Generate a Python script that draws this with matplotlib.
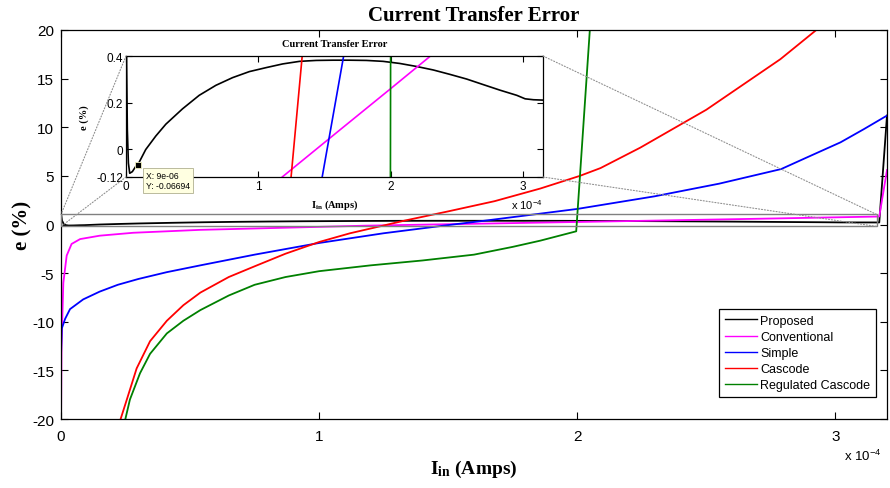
import matplotlib
matplotlib.use('Agg')
import matplotlib.pyplot as plt
from matplotlib.patches import Rectangle, ConnectionPatch
from matplotlib.ticker import FuncFormatter

# input current is stored in units of 1e-4 A
SCALE = 1e-4

prop_x = [0.0, 0.004, 0.010, 0.018, 0.028, 0.048, 0.073, 0.09, 0.149, 0.225, 0.301, 0.427,
          0.553, 0.679, 0.805, 0.932, 1.058, 1.184, 1.311, 1.437, 1.563, 1.689, 1.816, 1.942,
          2.068, 2.195, 2.321, 2.447, 2.573, 2.699, 2.826, 2.952, 3.015, 3.078, 3.17, 3.2]
prop_y = [1.1, 0.40, 0.085, -0.060, -0.104, -0.097, -0.075, -0.06694, -0.002, 0.056, 0.107, 0.173,
          0.231, 0.274, 0.307, 0.333, 0.350, 0.366, 0.377, 0.381, 0.382, 0.382, 0.381, 0.377,
          0.368, 0.355, 0.340, 0.321, 0.301, 0.277, 0.253, 0.231, 0.216, 0.212, 0.21, 11.2]

conv_x = [0.0, 0.002, 0.009, 0.022, 0.041, 0.074, 0.15, 0.28, 0.54, 0.93, 1.18, 1.6,
          2.0, 2.3, 2.7, 3.17, 3.2]
conv_y = [-21.0, -12.5, -6.0, -3.2, -2.0, -1.5, -1.15, -0.85, -0.55, -0.29, -0.12, 0.075,
          0.26, 0.40, 0.59, 0.82, 5.6]

simp_x = [0.0, 0.003, 0.016, 0.035, 0.086, 0.15, 0.22, 0.3, 0.41, 0.54, 0.75, 1.0, 1.25,
          1.482, 1.644, 2.0, 2.3, 2.55, 2.79, 2.89, 3.02, 3.11, 3.2]
simp_y = [-13.5, -10.7, -9.7, -8.7, -7.7, -6.9, -6.2, -5.6, -4.9, -4.2, -3.1, -1.9, -0.9,
          -0.12, 0.4, 1.6, 2.9, 4.2, 5.7, 6.9, 8.45, 9.8, 11.2]

casc_x = [0.225, 0.255, 0.293, 0.345, 0.41, 0.474, 0.54, 0.65, 0.75, 0.87, 1.0, 1.12, 1.247,
          1.331, 1.5, 1.68, 1.857, 2.01, 2.09, 2.244, 2.5, 2.787, 2.94]
casc_y = [-20.5, -18.0, -14.8, -12.0, -9.9, -8.3, -7.0, -5.4, -4.3, -3.0, -1.8, -0.9, -0.12,
          0.4, 1.35, 2.4, 3.7, 5.0, 5.8, 7.9, 11.8, 17.0, 20.3]

reg_x = [0.245, 0.267, 0.306, 0.345, 0.41, 0.474, 0.54, 0.65, 0.75, 0.87, 1.0, 1.2, 1.4,
         1.6, 1.75, 1.857, 1.996, 2.05]
reg_y = [-20.5, -18.0, -15.3, -13.3, -11.2, -9.9, -8.8, -7.3, -6.2, -5.4, -4.8, -4.2, -3.7,
         -3.1, -2.3, -1.66, -0.7, 20.5]

labels = ['Proposed', 'Conventional', 'Simple', 'Cascode', 'Regulated Cascode']
colors = ['black', '#ff00ff', '#0000ff', '#ff0000', '#008000']

# data tip on the proposed curve
tip_x = 0.09
tip_y = -0.06694

# zoom window drawn on the main axes
zoom_x = [0.0, 3.16]
zoom_y = [-0.2, 1.03]

SERIF = 'Liberation Serif'
SANS = 'Liberation Sans'
plt.rcParams['font.family'] = SANS
plt.rcParams['axes.unicode_minus'] = False
plt.rcParams['mathtext.fontset'] = 'custom'
plt.rcParams['mathtext.rm'] = SERIF
plt.rcParams['mathtext.bf'] = SERIF + ':bold'
plt.rcParams['mathtext.sf'] = SANS

series = list(zip([prop_x, conv_x, simp_x, casc_x, reg_x],
                  [prop_y, conv_y, simp_y, casc_y, reg_y], colors, labels))

W, H = 890, 489
fig = plt.figure(figsize=(W / 100, H / 100), dpi=100)
ax = fig.add_axes([61 / W, 1 - 420 / H, 826 / W, 389 / H])

for xs, ys, c, lab in series:
    ax.plot([v * SCALE for v in xs], ys, color=c, lw=1.3, label=lab)

fmt = FuncFormatter(lambda v, p: f'{v / SCALE:g}')
ax.set_xlim(0, 3.2 * SCALE)
ax.set_ylim(-20, 20)
ax.set_xticks([0, 1 * SCALE, 2 * SCALE, 3 * SCALE])
ax.set_yticks(range(-20, 21, 5))
ax.xaxis.set_major_formatter(fmt)
ax.tick_params(direction='in', top=True, right=True, length=5, width=0.8, labelsize=11)
ax.tick_params(axis='x', pad=7)
ax.tick_params(axis='y', pad=5)
for s in ax.spines.values():
    s.set_linewidth(0.9)

ax.set_title('Current Transfer Error', family=SERIF, weight='bold', fontsize=15, pad=7)
ax.set_ylabel('e (%)', family=SERIF, weight='bold', fontsize=15, labelpad=0)
ax.set_xlabel(r'$\mathbf{I_{in}}$ (Amps)', family=SERIF, weight='bold', fontsize=14, labelpad=11)
fig.text(881 / W, 1 - 456 / H, r'x 10$^{\mathsf{-4}}$', ha='right', va='center', fontsize=9.5)

leg = ax.legend(loc='lower right', bbox_to_anchor=(0.9867, 0.0566), borderaxespad=0,
                fontsize=9, fancybox=False, edgecolor='black', framealpha=1,
                handlelength=2.6, handletextpad=0.25, labelspacing=0.33, borderpad=0.45)
leg.get_frame().set_linewidth(0.9)
for line in leg.get_lines():
    line.set_linewidth(1.0)

ax.add_patch(Rectangle((zoom_x[0] * SCALE, zoom_y[0]), (zoom_x[1] - zoom_x[0]) * SCALE,
                       zoom_y[1] - zoom_y[0], fill=False, edgecolor='#808080', lw=1.0, zorder=4))

# inset with the zoomed view
ax_in = fig.add_axes([126 / W, 1 - 178 / H, 417 / W, 121 / H])
for xs, ys, c, lab in series:
    ax_in.plot([v * SCALE for v in xs], ys, color=c, lw=1.2)
ax_in.set_xlim(0, 3.15 * SCALE)
ax_in.set_ylim(-0.12, 0.4)
ax_in.set_xticks([0, 1 * SCALE, 2 * SCALE, 3 * SCALE])
ax_in.xaxis.set_major_formatter(fmt)
ax_in.set_yticks([-0.12, 0, 0.2, 0.4])
ax_in.set_yticklabels(['-0.12', '0', '0.2', '0.4'])
ax_in.tick_params(direction='in', top=True, right=True, length=4, width=0.8, labelsize=8.5, pad=2)
for s in ax_in.spines.values():
    s.set_linewidth(0.9)
ax_in.set_title('Current Transfer Error', family=SERIF, weight='bold', fontsize=7.5, pad=7)
ax_in.set_ylabel('e (%)', family=SERIF, weight='bold', fontsize=7.5, labelpad=5)
ax_in.set_xlabel(r'$\mathbf{I_{in}}$ (Amps)', family=SERIF, weight='bold', fontsize=7.5, labelpad=4)
fig.text(543 / W, 1 - 205 / H, r'x 10$^{\mathsf{-4}}$', ha='right', va='center', fontsize=8)

ax_in.plot([tip_x * SCALE], [tip_y], 's', color='black', markersize=4.5,
           markeredgecolor='#f0f0c0', markeredgewidth=0.6, zorder=6, clip_on=False)
ax_in.annotate(f'X: {tip_x * SCALE:g}\nY: {tip_y:.4g}', xy=(tip_x * SCALE, tip_y),
               xytext=(8, -6), textcoords='offset pixels', ha='left', va='top',
               fontsize=6.2, annotation_clip=False, zorder=7,
               bbox=dict(boxstyle='square,pad=0.35', facecolor='#ffffe1',
                         edgecolor='#b0b090', lw=0.6))

# dotted connectors between the inset corners and the zoom window
corners = [((0, 1), (zoom_x[0], zoom_y[1])), ((0, 0), (zoom_x[0], zoom_y[0])),
           ((1, 1), (zoom_x[1], zoom_y[1])), ((1, 0), (zoom_x[1], zoom_y[0]))]
for (ia, ib), (dx, dy) in corners:
    con = ConnectionPatch(xyA=(ia, ib), coordsA=ax_in.transAxes,
                          xyB=(dx * SCALE, dy), coordsB=ax.transData,
                          color='#909090', lw=0.8, linestyle=':', zorder=3)
    fig.add_artist(con)

fig.savefig('out.png', dpi=100)
